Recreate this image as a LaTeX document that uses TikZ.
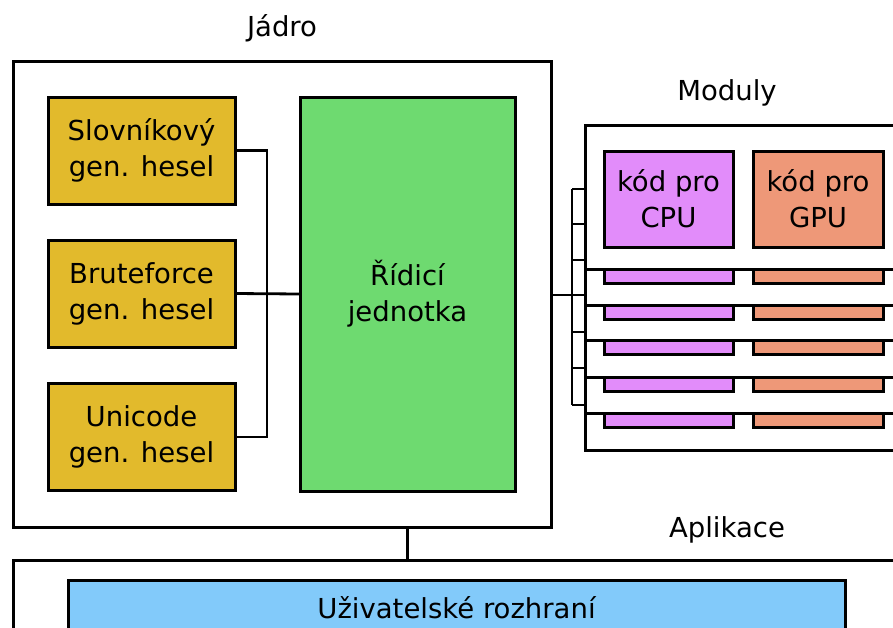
\documentclass[tikz,border=0pt]{standalone}
\usepackage{fontspec}
\setmainfont{DejaVu Sans}
\begin{document}
\begin{tikzpicture}[x=1pt,y=-1pt,
    box/.style={draw=black, line width=3pt, inner sep=0pt, outer sep=0pt, align=center, font=\fontsize{27.5}{36}\selectfont},
    frame/.style={draw=black, line width=3pt, fill=white, inner sep=0pt, outer sep=0pt},
    bar/.style={draw=black, line width=3pt},
    wire/.style={draw=black, line width=2.8pt},
    caption/.style={font=\fontsize{27.5}{36}\selectfont}]
    % Define colors
    \definecolor{gencolor}{RGB}{226,186,44}
    \definecolor{ctrlcolor}{RGB}{110,218,112}
    \definecolor{cpucolor}{RGB}{226,140,250}
    \definecolor{gpucolor}{RGB}{238,152,120}
    \definecolor{uicolor}{RGB}{130,202,250}

    \useasboundingbox (0,0) rectangle (893,627);
    \clip (0,0) rectangle (893,627);

    % Jadro
    \node[frame, minimum width=538, minimum height=466] (jadro) at (282,294) {};
    \node[caption] (jadrolabel) at (282,28) {Jádro};

    \node[box, fill=gencolor, minimum width=187, minimum height=107] (gen1) at (141.5,150.5) {Slovníkový\\gen. hesel};
    \node[box, fill=gencolor, minimum width=187, minimum height=107] (gen2) at (141.5,293.5) {Bruteforce\\gen. hesel};
    \node[box, fill=gencolor, minimum width=187, minimum height=107] (gen3) at (141.5,437) {Unicode\\gen. hesel};
    \node[box, fill=ctrlcolor, minimum width=215, minimum height=394] (ctrl) at (407.5,294) {Řídicí\\jednotka};

    \draw[wire] (gen1.east) -- ++(32,0) |- (gen3.east);
    \draw[wire] (gen2.east) -- (ctrl.west);

    % Moduly (stacked cards)
    \node[caption] (modlabel) at (727,93) {Moduly};
    \node[frame, anchor=north west, minimum width=330, minimum height=325] (card1) at (585,125) {};
    \node[box, fill=cpucolor, minimum width=129, minimum height=96] (cpu) at (668.5,199) {kód pro\\CPU};
    \node[box, fill=gpucolor, minimum width=130, minimum height=96] (gpu) at (818,199) {kód pro\\GPU};
    \foreach \t/\h in {269/181, 305/145, 340/110, 377/73, 413/37} {
        \draw[frame] (585,\t) rectangle ++(330,\h);
        \draw[bar, fill=cpucolor] (604,\t) rectangle (733,\t+14);
        \draw[bar, fill=gpucolor] (753,\t) rectangle (883,\t+14);
    }

    % Bus to modules
    \foreach \y [count=\i] in {189,224,260,295,332,368,405} {
        \coordinate (tick\i) at (572,\y);
        \draw[wire] (tick\i) -- (tick\i -| card1.west);
    }
    \draw[wire] (tick1) -- (tick7);
    \draw[wire] (jadro.east |- tick4) -- (tick4);

    % Aplikace
    \node[caption] (applabel) at (727,530) {Aplikace};
    \node[frame, anchor=north west, minimum width=900, minimum height=100] (app) at (13,560) {};
    \draw[wire] (ctrl.south |- jadro.south) -- (ctrl.south |- app.north);
    \node[box, fill=uicolor, anchor=north west, minimum width=777, minimum height=80] (ui) at (68,580) {};
    \node[caption] (uilabel) at (456.5,608) {Uživatelské rozhraní};
\end{tikzpicture}
\end{document}
